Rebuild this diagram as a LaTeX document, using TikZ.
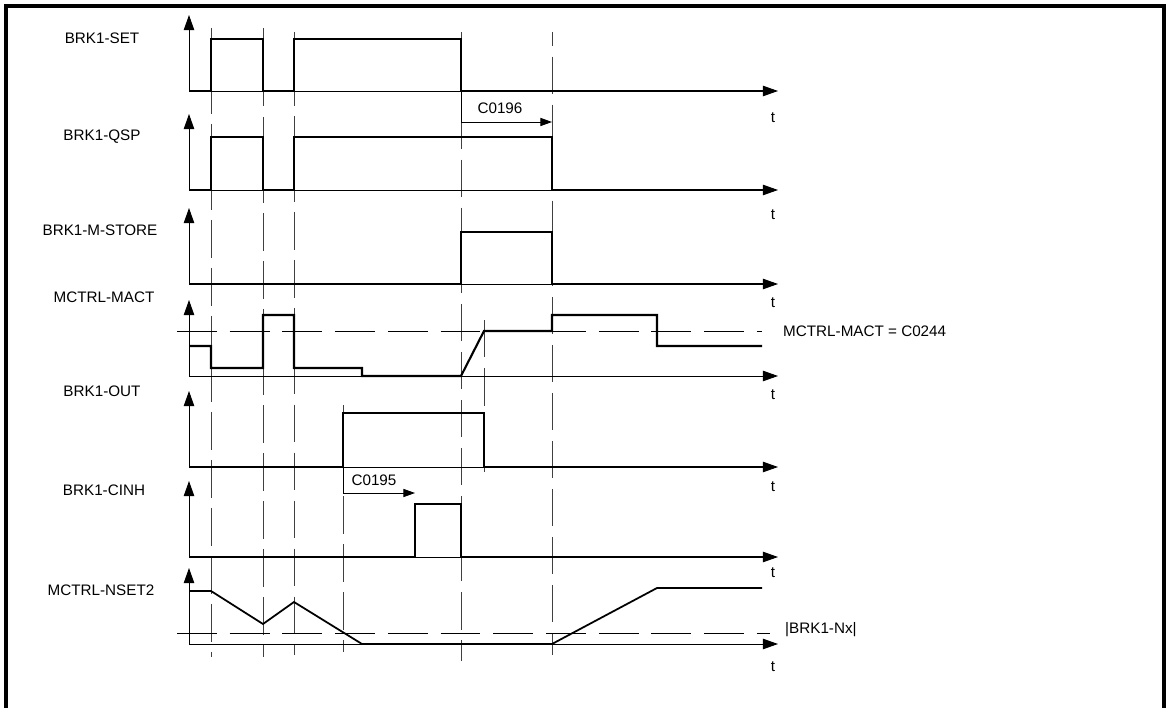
\documentclass[tikz,border=0pt]{standalone}
\usepackage{fontspec}
\setmainfont{Liberation Sans}
\usepackage{tikz}
\usetikzlibrary{arrows.meta}

\begin{document}
\begin{tikzpicture}[
  x=0.03cm, y=-0.03cm,
  >={Triangle[length=13pt,width=9pt]},
  every node/.style={font=\fontsize{13}{15}\selectfont, inner sep=0pt},
  axis/.style={->, line width=0.8pt},
  signal/.style={line width=1.8pt, line join=miter},
  guide/.style={line width=0.8pt, black!75, dash pattern=on 32pt off 9pt},
  level/.style={line width=0.8pt, dash pattern=on 34pt off 11pt},
  sig/.style={anchor=center},
  delay/.style={->, line width=0.8pt, >={Triangle[length=10pt,width=7pt]}}
]
\useasboundingbox (0,0) rectangle (1172,708);

%% Frame
\draw[line width=2.6pt] (6,710) -- (6,6) -- (1164,6) -- (1164,710);

%% Guide lines
\draw[guide] (211,28) -- (211,657);
\draw[guide, dash phase=6pt] (263,28) -- (263,657);
\draw[guide, dash phase=10pt] (294,32) -- (294,655);
\draw[guide, dash phase=4pt] (343,405) -- (343,652);
\draw[guide, dash phase=14pt] (461,32) -- (461,661);
\draw[guide] (484,320) -- (484,472);
\draw[guide, dash phase=20pt] (552,32) -- (552,655);

%% Axes
\foreach \y/\t in {91/118, 190/215, 284/303, 376/395, 467/487, 557/573, 644/667} {
  \draw[axis] (189,\y) -- (189,\y-76);
  \draw[axis] (189,\y) -- (778,\y);
  \node at (773,\t) {t};
}

%% Signal names
\node[sig] (set)    at (102,38)  {BRK1-SET};
\node[sig] (qsp)    at (102,137) {BRK1-QSP};
\node[sig] (mstore) at (100,230) {BRK1-M-STORE};
\node[sig] (mact)   at (104,297) {MCTRL-MACT};
\node[sig] (out)    at (102,391) {BRK1-OUT};
\node[sig] (cinh)   at (104,490) {BRK1-CINH};
\node[sig] (nset)   at (101,590) {MCTRL-NSET2};

%% BRK1-SET
\draw[signal] (189,91) -- (211,91) -- (211,39) -- (263,39) -- (263,91)
  -- (294,91) -- (294,39) -- (461,39) -- (461,91) -- (765,91);
%% BRK1-QSP
\draw[signal] (189,190) -- (211,190) -- (211,137) -- (263,137) -- (263,190)
  -- (294,190) -- (294,137) -- (552,137) -- (552,190) -- (765,190);
%% BRK1-M-STORE
\draw[signal] (189,284) -- (461,284) -- (461,232) -- (552,232)
  -- (552,284) -- (765,284);
%% MCTRL-MACT
\draw[level] (177,331) -- (762,331);
\node[anchor=west] (macttxt) at (783,331) {MCTRL-MACT = C0244};
\draw[signal] (189,346) -- (211,346) -- (211,368) -- (263,368) -- (263,315)
  -- (294,315) -- (294,368) -- (362,368) -- (362,376) -- (461,376)
  -- (484,331) -- (552,331) -- (552,315) -- (657,315) -- (657,346) -- (762,346);
%% BRK1-OUT
\draw[signal] (189,467) -- (343,467) -- (343,413) -- (484,413)
  -- (484,467) -- (765,467);
%% BRK1-CINH
\draw[signal] (189,557) -- (415,557) -- (415,504) -- (461,504)
  -- (461,557) -- (765,557);
%% MCTRL-NSET2
\draw[level] (177,633) -- (770,633);
\node[anchor=west] (nxtxt) at (785,630) {|BRK1-Nx|};
\draw[signal, line width=1.5pt] (189,591) -- (211,591) -- (263,624) -- (294,602)
  -- (362,644) -- (552,644) -- (657,588) -- (762,588);

%% Delays
\coordinate (d6a) at (461,122);
\coordinate (d6b) at (552,122);
\draw[delay] (461,91) -- (d6a) -- (d6b);
\node (c196) at (500,108) {C0196};
\coordinate (d5a) at (343,493);
\coordinate (d5b) at (415,493);
\draw[delay] (343,467) -- (d5a) -- (d5b);
\node (c195) at (374,480) {C0195};

\end{tikzpicture}
\end{document}
